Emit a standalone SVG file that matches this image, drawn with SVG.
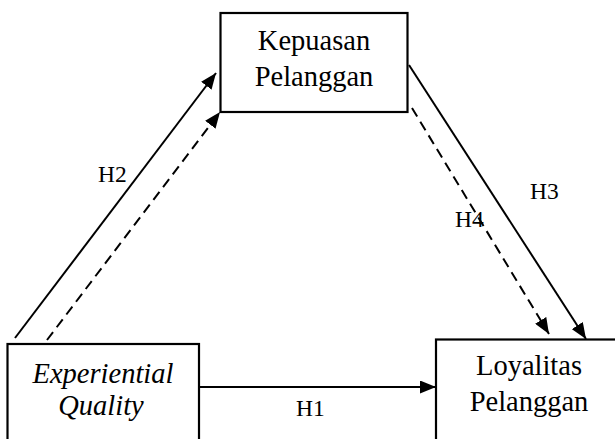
<svg xmlns="http://www.w3.org/2000/svg" width="615" height="439" viewBox="0 0 615 439">
<style>
.box{fill:#fff;stroke:#000;stroke-width:2.2}
.t{font-family:"Liberation Serif","Times New Roman",serif;font-size:28.5px;fill:#000;text-anchor:middle}
.it{font-style:italic}
.lbl{font-family:"Liberation Serif","Times New Roman",serif;font-size:23.5px;fill:#000}
.ln{stroke:#000;stroke-width:2;fill:none;marker-end:url(#ah)}
.dash{stroke-dasharray:10 6}
</style>
<defs>
<marker id="ah" markerUnits="userSpaceOnUse" markerWidth="17" markerHeight="13" refX="16" refY="6.5" orient="auto">
<path d="M0,0 L16,6.5 L0,13 z" fill="#000"/>
</marker>
</defs>
<rect width="615" height="439" fill="#fff"/>
<g id="connectors">
<line class="ln" x1="15" y1="338" x2="216" y2="73"/>
<line class="ln dash" x1="47" y1="340" x2="220" y2="112"/>
<line class="ln" x1="409" y1="65" x2="586" y2="339"/>
<line class="ln dash" x1="412" y1="108" x2="549" y2="334"/>
<line class="ln" x1="199" y1="387" x2="436" y2="387"/>
</g>
<g id="node-kepuasan">
<rect class="box" x="220.5" y="13" width="187" height="99"/>
<text class="t" x="314" y="50">Kepuasan</text>
<text class="t" x="314" y="86">Pelanggan</text>
</g>
<g id="node-experiential">
<rect class="box" x="7.5" y="344" width="191.5" height="110"/>
<text class="t it" x="103" y="383">Experiential</text>
<text class="t it" x="101" y="415">Quality</text>
</g>
<g id="node-loyalitas">
<rect class="box" x="436" y="339.5" width="190" height="110"/>
<text class="t" x="529" y="375">Loyalitas</text>
<text class="t" x="529" y="411">Pelanggan</text>
</g>
<g id="labels">
<text class="lbl" x="98" y="182">H2</text>
<text class="lbl" x="530" y="199">H3</text>
<text class="lbl" x="455" y="227">H4</text>
<text class="lbl" x="296" y="416">H1</text>
</g>
</svg>
